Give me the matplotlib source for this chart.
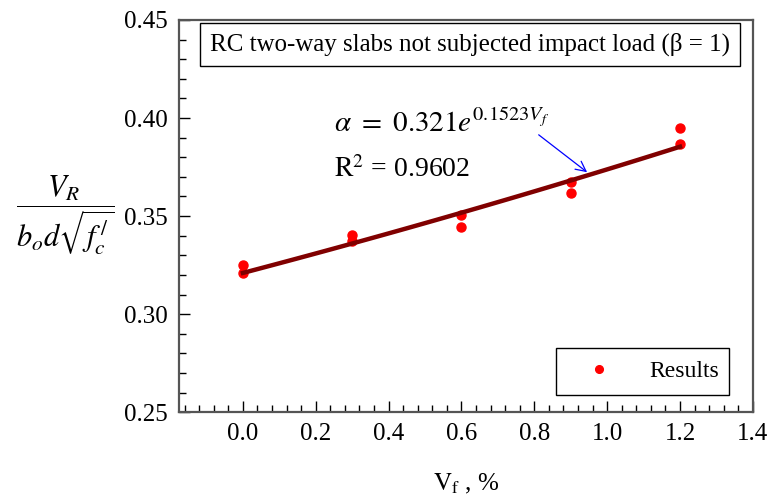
import matplotlib
matplotlib.use("Agg")
import matplotlib.pyplot as plt
from matplotlib.ticker import MultipleLocator
import numpy as np

plt.rcParams['font.family'] = ['Liberation Serif', 'DejaVu Serif']
plt.rcParams['mathtext.fontset'] = 'stix'

# data
vf = [0.0, 0.0, 0.3, 0.3, 0.6, 0.6, 0.9, 0.9, 1.2, 1.2]
ratio = [0.325, 0.321, 0.3405, 0.3375, 0.3505, 0.3445, 0.3675, 0.362, 0.395, 0.387]

# fitted curve alpha = a * exp(b * Vf)
fit_a = 0.321
fit_b = 0.1523
fit_r2 = 0.9602
fit_range = [0.0, 1.2]

fig = plt.figure(figsize=(7.69, 4.99), dpi=100)
ax = fig.add_axes([0.233, 0.174, 0.746, 0.786])

ax.plot(vf, ratio, 'o', color='#ff0000', markersize=6.5, label='Results', zorder=2)
xf = np.linspace(fit_range[0], fit_range[1], 60)
ax.plot(xf, fit_a * np.exp(fit_b * xf), '-', color='#800000', linewidth=3.2, zorder=3)

ax.set_xlim(-0.175, 1.4)
ax.set_ylim(0.25, 0.45)
ax.xaxis.set_major_locator(MultipleLocator(0.2))
ax.xaxis.set_minor_locator(MultipleLocator(0.04))
ax.yaxis.set_major_locator(MultipleLocator(0.05))
ax.yaxis.set_minor_locator(MultipleLocator(0.01))
ax.xaxis.set_major_formatter(matplotlib.ticker.FormatStrFormatter('%.1f'))
ax.yaxis.set_major_formatter(matplotlib.ticker.FormatStrFormatter('%.2f'))
ax.tick_params(which='both', direction='in', top=False, right=False, width=1, labelsize=18, pad=8)
ax.tick_params(which='major', length=8)
ax.tick_params(which='minor', length=5)
for s in ax.spines.values():
    s.set_color('#555555')
    s.set_linewidth(1.6)

ax.set_xlabel(r'$\mathrm{V_f}$ , %', fontsize=18, labelpad=19)
ax.set_ylabel(r"$\dfrac{V_R}{b_o d\sqrt{f_c^{\,/}}}$", fontsize=22, rotation=0, va='center', ha='center')
ax.yaxis.set_label_coords(-0.199, 0.5)

ax.text(0.249, 0.3929, r'$\alpha\ =\ 0.321e^{0.1523V_f}$', fontsize=21, ha='left', va='baseline')
ax.text(0.249, 0.3699, r'$\mathrm{R}^2$ = 0.9602', fontsize=20, ha='left', va='baseline')

ax.annotate('', xy=(0.951, 0.3715), xytext=(0.806, 0.3923),
            arrowprops=dict(arrowstyle='->', color='blue', lw=0.9, mutation_scale=18))

ax.text(0.507, 0.937, u'RC two-way slabs not subjected impact load (\u03b2 = 1)',
        transform=ax.transAxes, fontsize=18, ha='center', va='center',
        bbox=dict(boxstyle='square,pad=0.4', facecolor='white', edgecolor='black', linewidth=1))

ax.legend(loc='lower left', bbox_to_anchor=(0.657, 0.0434, 0.301, 0.128), mode='expand',
          borderaxespad=0, fontsize=17, fancybox=False, edgecolor='black', framealpha=1,
          handlelength=2.5, handletextpad=0.9, borderpad=0.55, markerscale=0.85)

fig.savefig('out.png', dpi=100)
